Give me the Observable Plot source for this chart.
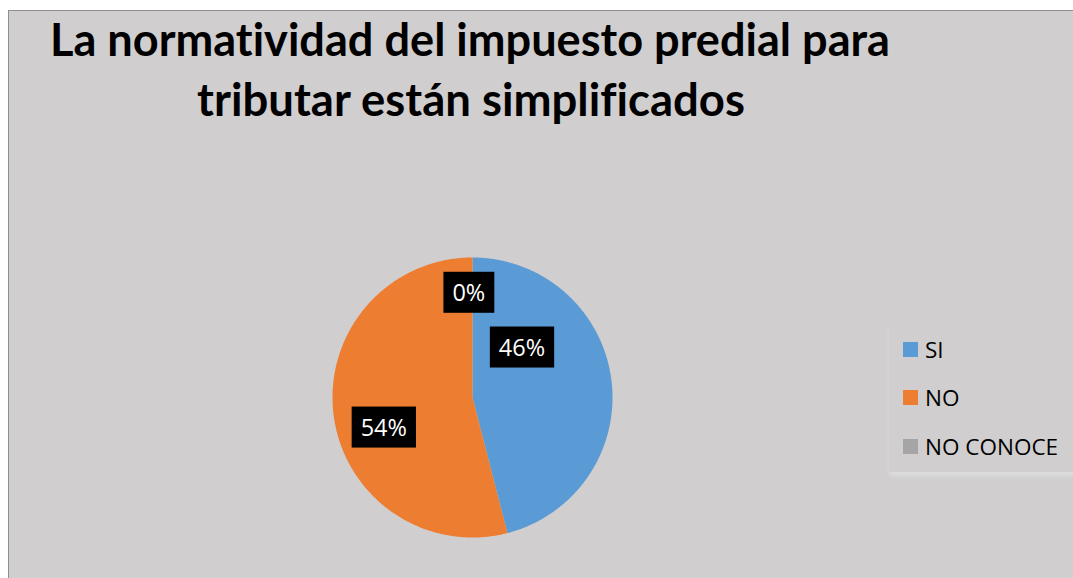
<!DOCTYPE html>
<html>
<head>
<meta charset="utf-8">
<script src="https://cdn.jsdelivr.net/npm/d3@7"></script>
<script src="https://cdn.jsdelivr.net/npm/@observablehq/plot@0.6"></script>
<style>
  html, body { margin: 0; padding: 0; background: #ffffff; }
  body { position: relative; width: 1073px; height: 578px; overflow: hidden; }
  #frame {
    position: absolute; left: 8px; top: 10px; width: 1080px; height: 580px;
    background: #d0cece; border-top: 1.5px solid #8e8e8e; border-left: 1.5px solid #8e8e8e;
    box-sizing: border-box;
  }
  .title-line {
    position: absolute; white-space: nowrap; font-family: Lato, "Open Sans", sans-serif;
    font-weight: 700; font-size: 46px; line-height: 46px; color: #000; transform-origin: 0 0;
    font-variant-ligatures: none; font-feature-settings: "liga" 0, "clig" 0;
  }
  #pie { position: absolute; left: 312px; top: 236.5px; }
  #legend {
    position: absolute; left: 889px; top: 322px; width: 190px; height: 150px;
    background: #d0cece; box-shadow: 0 4px 4px rgba(255,255,255,0.3);
  }
  .lg-item { position: absolute; left: 14px; display: flex; align-items: center;
    font-family: "Open Sans", sans-serif; font-size: 22.5px; color: #000; }
  .lg-sw { width: 15px; height: 15px; margin-right: 7px; }
</style>
</head>
<body>
<div id="frame"></div>
<div class="title-line" id="t1"></div>
<div class="title-line" id="t2"></div>
<div id="pie"></div>
<div id="legend"></div>
<script>
// ---- data ----
const titleLines = ["La normatividad del impuesto predial para", "tributar están simplificados"];
const categories = ["SI", "NO", "NO CONOCE"];
const values = [46, 54, 0];
const valueLabels = ["46%", "54%", "0%"];
const colors = ["#5b9bd5", "#ed7d31", "#a5a5a5"];

// ---- label placement (layout, degrees clockwise from north, radius as fraction) ----
const labelPlacement = [
  { angle: 45, r: 0.50 },
  { angle: 251, r: 0.67 },
  { angle: 358, r: 0.745 }
];

// ---- title ----
const titleSpecs = [
  { el: "t1", left: 50, top: 16, width: 840 },
  { el: "t2", left: 197, top: 76, width: 548 }
];
titleSpecs.forEach((s, i) => {
  const d = document.getElementById(s.el);
  d.textContent = titleLines[i];
  d.style.left = s.left + "px";
  d.style.top = s.top + "px";
});

// ---- pie geometry from data ----
const rows = categories.map((c, i) => ({ category: c, value: values[i], label: valueLabels[i] }));
const arcs = d3.pie().sort(null).value(d => d.value)(rows);
const polyPts = [];
arcs.forEach(a => {
  if (a.endAngle - a.startAngle <= 0) return;
  const cat = a.data.category;
  polyPts.push({ category: cat, x: 0, y: 0 });
  const n = Math.max(2, Math.ceil((a.endAngle - a.startAngle) / 0.01));
  for (let k = 0; k <= n; k++) {
    const t = a.startAngle + (a.endAngle - a.startAngle) * k / n;
    polyPts.push({ category: cat, x: Math.sin(t), y: Math.cos(t) });
  }
  polyPts.push({ category: cat, x: 0, y: 0 });
});
const labelPts = rows.map((d, i) => {
  const t = labelPlacement[i].angle * Math.PI / 180;
  const r = labelPlacement[i].r;
  return { label: d.label, x: r * Math.sin(t), y: r * Math.cos(t) };
});

const pie = Plot.plot({
  width: 320, height: 320,
  margin: 20,
  x: { domain: [-1, 1], axis: null },
  y: { domain: [-1, 1], axis: null },
  color: { domain: categories, range: colors },
  style: { background: "transparent", overflow: "visible" },
  marks: [
    Plot.line(polyPts, { x: "x", y: "y", z: "category", fill: "category", stroke: null, curve: "linear" }),
    Plot.text(labelPts, { x: "x", y: "y", text: "label", fill: "white",
      fontSize: 23.5, fontFamily: "Open Sans", className: "pielabel" })
  ]
});
document.getElementById("pie").appendChild(pie);

// black boxes behind labels
pie.querySelectorAll(".pielabel text").forEach(t => {
  const b = t.getBBox();
  const rect = document.createElementNS("http://www.w3.org/2000/svg", "rect");
  const w = b.width + 18, h = 41;
  rect.setAttribute("x", b.x + b.width / 2 - w / 2);
  rect.setAttribute("y", b.y + b.height / 2 - h / 2 + 0.5);
  rect.setAttribute("width", w);
  rect.setAttribute("height", h);
  rect.setAttribute("fill", "#000");
  if (t.getAttribute("transform")) rect.setAttribute("transform", t.getAttribute("transform"));
  t.parentNode.insertBefore(rect, t);
});

// title width fit
titleSpecs.forEach(s => {
  const d = document.getElementById(s.el);
  const w = d.getBoundingClientRect().width;
  d.style.transform = `scaleX(${s.width / w})`;
});

// legend
const legend = document.getElementById("legend");
const legendTops = [12, 60, 109];
categories.forEach((c, i) => {
  const it = document.createElement("div");
  it.className = "lg-item";
  it.style.top = legendTops[i] + "px";
  const sw = document.createElement("div");
  sw.className = "lg-sw";
  sw.style.background = colors[i];
  const tx = document.createElement("span");
  tx.textContent = c;
  it.appendChild(sw); it.appendChild(tx);
  legend.appendChild(it);
});
</script>
</body>
</html>
